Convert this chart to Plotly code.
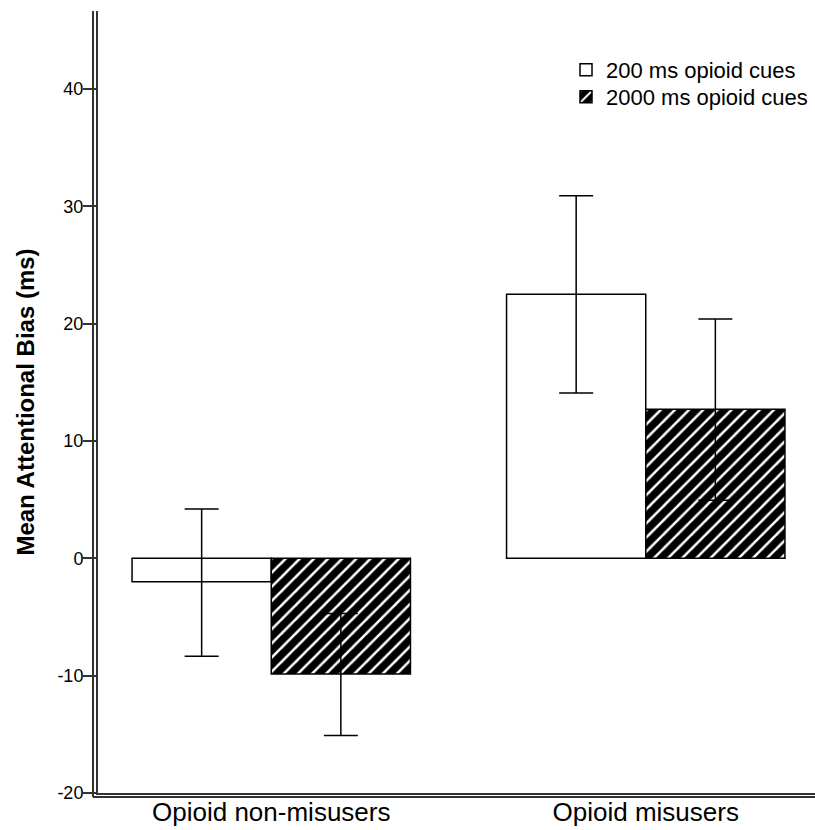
import plotly.graph_objects as go

categories = ["Opioid non-misusers", "Opioid misusers"]
series_names = ["200 ms opioid cues", "2000 ms opioid cues"]
means_200 = [-2.0, 22.5]
upper_200 = [4.2, 30.9]
lower_200 = [-8.35, 14.1]
means_2000 = [-9.85, 12.7]
upper_2000 = [-4.7, 20.4]
lower_2000 = [-15.1, 4.95]

W, H = 815, 830
ML, MR, MT, MB = 98, 0, 11, 37
PW, PH = W - ML - MR, H - MT - MB

bw = 0.3717
fig = go.Figure()
fig.add_trace(go.Bar(
    x=categories, y=means_200, name=series_names[0], legend="legend",
    width=bw, offset=-bw,
    marker=dict(color="white", line=dict(color="black", width=1.5)),
    error_y=dict(type="data", symmetric=False,
                 array=[u - m for u, m in zip(upper_200, means_200)],
                 arrayminus=[m - l for m, l in zip(means_200, lower_200)],
                 color="black", thickness=1.5, width=17),
))
fig.add_trace(go.Bar(
    x=categories, y=means_2000, name=series_names[1], legend="legend2",
    width=bw, offset=0,
    marker=dict(color="black", line=dict(color="black", width=1.5),
                pattern=dict(shape="/", fgcolor="white", bgcolor="black",
                             fillmode="replace", size=10, solidity=0.25)),
    error_y=dict(type="data", symmetric=False,
                 array=[u - m for u, m in zip(upper_2000, means_2000)],
                 arrayminus=[m - l for m, l in zip(means_2000, lower_2000)],
                 color="black", thickness=1.5, width=17),
))

def legend_at(top_px):
    return dict(x=(566 - ML) / PW, y=(H - top_px - MB) / PH, xanchor="left", yanchor="top",
                bgcolor="rgba(0,0,0,0)", font=dict(size=22), tracegroupgap=0)

fig.update_layout(
    width=W, height=H,
    margin=dict(l=ML, r=MR, t=MT, b=MB, pad=0),
    barmode="overlay",
    plot_bgcolor="white", paper_bgcolor="white",
    font=dict(family="Liberation Sans, Arial, sans-serif", color="black"),
    showlegend=True,
    legend=legend_at(49),
    legend2=legend_at(76),
    xaxis=dict(range=[-0.4626, 1.4519], showline=True, linecolor="#333", linewidth=2,
               ticks="", showgrid=False, zeroline=False, ticklabelstandoff=-5,
               tickfont=dict(size=26), automargin=False),
    yaxis=dict(range=[-20, 46.65], tickvals=[-20, -10, 0, 10, 20, 30, 40],
               ticktext=["-20", "-10", "0", "10", "20", "30", "40"],
               showline=True, linecolor="#333", linewidth=2,
               ticks="outside", ticklen=13, tickwidth=2, tickcolor="#333",
               ticklabelstandoff=-4,
               showgrid=False, zeroline=False, tickfont=dict(size=18),
               title=dict(text="<b>Mean Attentional Bias (ms)</b>", font=dict(size=24), standoff=16),
               automargin=False),
)
# outer lines of the double axis
fig.add_shape(type="line", xref="paper", yref="paper",
              x0=-5 / PW, x1=-5 / PW, y0=-4 / PH, y1=1,
              line=dict(color="#333", width=2))
fig.add_shape(type="line", xref="paper", yref="paper",
              x0=-5 / PW, x1=1, y0=-4 / PH, y1=-4 / PH,
              line=dict(color="#333", width=2))

fig.write_html("out.html", config={"displayModeBar": False},
               post_script="document.body.style.margin='0';")
